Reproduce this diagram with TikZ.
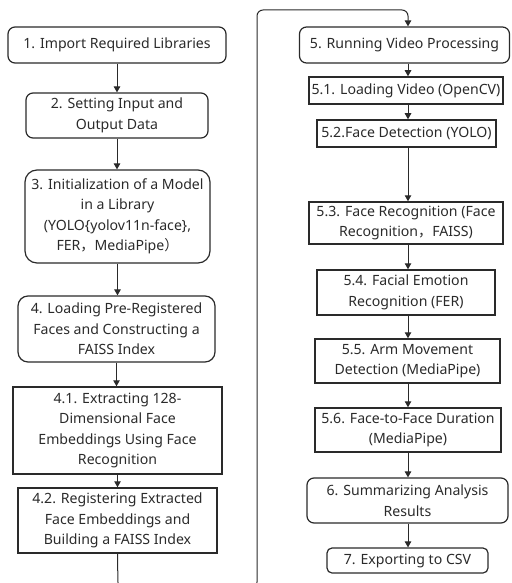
\documentclass[tikz,border=0pt]{standalone}
\usepackage{fontspec}
\setmainfont{Noto Sans}
\newfontfamily\cjk{Noto Sans CJK SC}
\usetikzlibrary{arrows.meta}
\definecolor{ink}{HTML}{2A2A2A}
\begin{document}
\begin{tikzpicture}[x=1pt,y=-1pt,
  base/.style={draw=ink,text=ink,align=center,inner sep=0pt,font=\fontsize{14.1}{20.5}\selectfont},
  rbox/.style={base,rounded corners=7pt,line width=1.2pt},
  sbox/.style={base,line width=1.5pt},
  flow/.style={draw=ink,line width=1pt,-{Triangle[width=6.5pt,length=6pt]}}]
\useasboundingbox (0,0) rectangle (511,583);
\clip (0,0) rectangle (511,583);
\node[rbox,minimum width=218pt,minimum height=36pt] (b1) at (117,45) {1. Import Required Libraries};
\node[rbox,minimum width=182pt,minimum height=45pt] (b2) at (117,115.5) {2. Setting Input and\\Output Data};
\node[rbox,rounded corners=12pt,minimum width=185pt,minimum height=93pt] (b3) at (117.5,216.5) {3. Initialization of a Model\\in a Library\\(YOLO\{yolov11n-face\},\\FER{\cjk ，}MediaPipe{\cjk ）}};
\node[rbox,rounded corners=10pt,minimum width=197pt,minimum height=66pt] (b4) at (116.5,329) {4. Loading Pre-Registered\\Faces and Constructing a\\FAISS Index};
\node[sbox,minimum width=209pt,minimum height=87pt] (b41) at (117.5,430.5) {4.1. Extracting 128-\\Dimensional Face\\Embeddings Using Face\\Recognition};
\node[sbox,minimum width=199pt,minimum height=65pt] (b42) at (117.5,520.5) {4.2. Registering Extracted\\Face Embeddings and\\Building a FAISS Index};
\node[rbox,minimum width=210pt,minimum height=36pt] (b5) at (404.5,45) {5. Running Video Processing};
\node[sbox,minimum width=194pt,minimum height=27pt] (b51) at (406,90.5) {5.1. Loading Video (OpenCV)};
\node[sbox,minimum width=179pt,minimum height=27pt] (b52) at (406.5,133.5) {5.2.Face Detection (YOLO)};
\node[sbox,minimum width=194pt,minimum height=42pt] (b53) at (406,223) {5.3. Face Recognition (Face\\Recognition{\cjk ，}FAISS)};
\node[sbox,minimum width=178pt,minimum height=45pt] (b54) at (406,292.5) {5.4. Facial Emotion\\Recognition (FER)};
\node[sbox,minimum width=185pt,minimum height=44pt] (b55) at (407.5,361) {5.5. Arm Movement\\Detection (MediaPipe)};
\node[sbox,minimum width=186pt,minimum height=44pt] (b56) at (408,430) {5.6. Face-to-Face Duration\\(MediaPipe)};
\node[rbox,minimum width=201pt,minimum height=45pt] (b6) at (407.5,500.5) {6. Summarizing Analysis\\Results};
\node[rbox,rounded corners=5pt,minimum width=161pt,minimum height=25pt] (b7) at (407.5,560.5) {7. Exporting to CSV};
\draw[flow] (b1.south) -- (b1.south |- b2.north);
\draw[flow] (b2.south) -- (b2.south |- b3.north);
\draw[flow] (b3.south) -- (b3.south |- b4.north);
\draw[flow] (b4.south) -- (b4.south |- b41.north);
\draw[flow] (b41.south) -- (b41.south |- b42.north);
\coordinate (lb) at (118,588);
\coordinate (lr) at (257,588);
\coordinate (lt) at (257,10);
\coordinate (rt) at (408,10);
\draw[flow,rounded corners=6pt] (b42.south) -- (lb) -- (lr) -- (lt) -- (rt) -- (rt |- b5.north);
\draw[flow] (b5.south -| rt) -- (rt |- b51.north);
\draw[flow] (b51.south -| rt) -- (rt |- b52.north);
\draw[flow] (b52.south -| rt) -- (rt |- b53.north);
\draw[flow] (b53.south -| rt) -- (rt |- b54.north);
\draw[flow] (b54.south -| rt) -- (rt |- b55.north);
\draw[flow] (b55.south -| rt) -- (rt |- b56.north);
\draw[flow] (b56.south -| rt) -- (rt |- b6.north);
\draw[flow] (b6.south -| rt) -- (rt |- b7.north);
\end{tikzpicture}
\end{document}
